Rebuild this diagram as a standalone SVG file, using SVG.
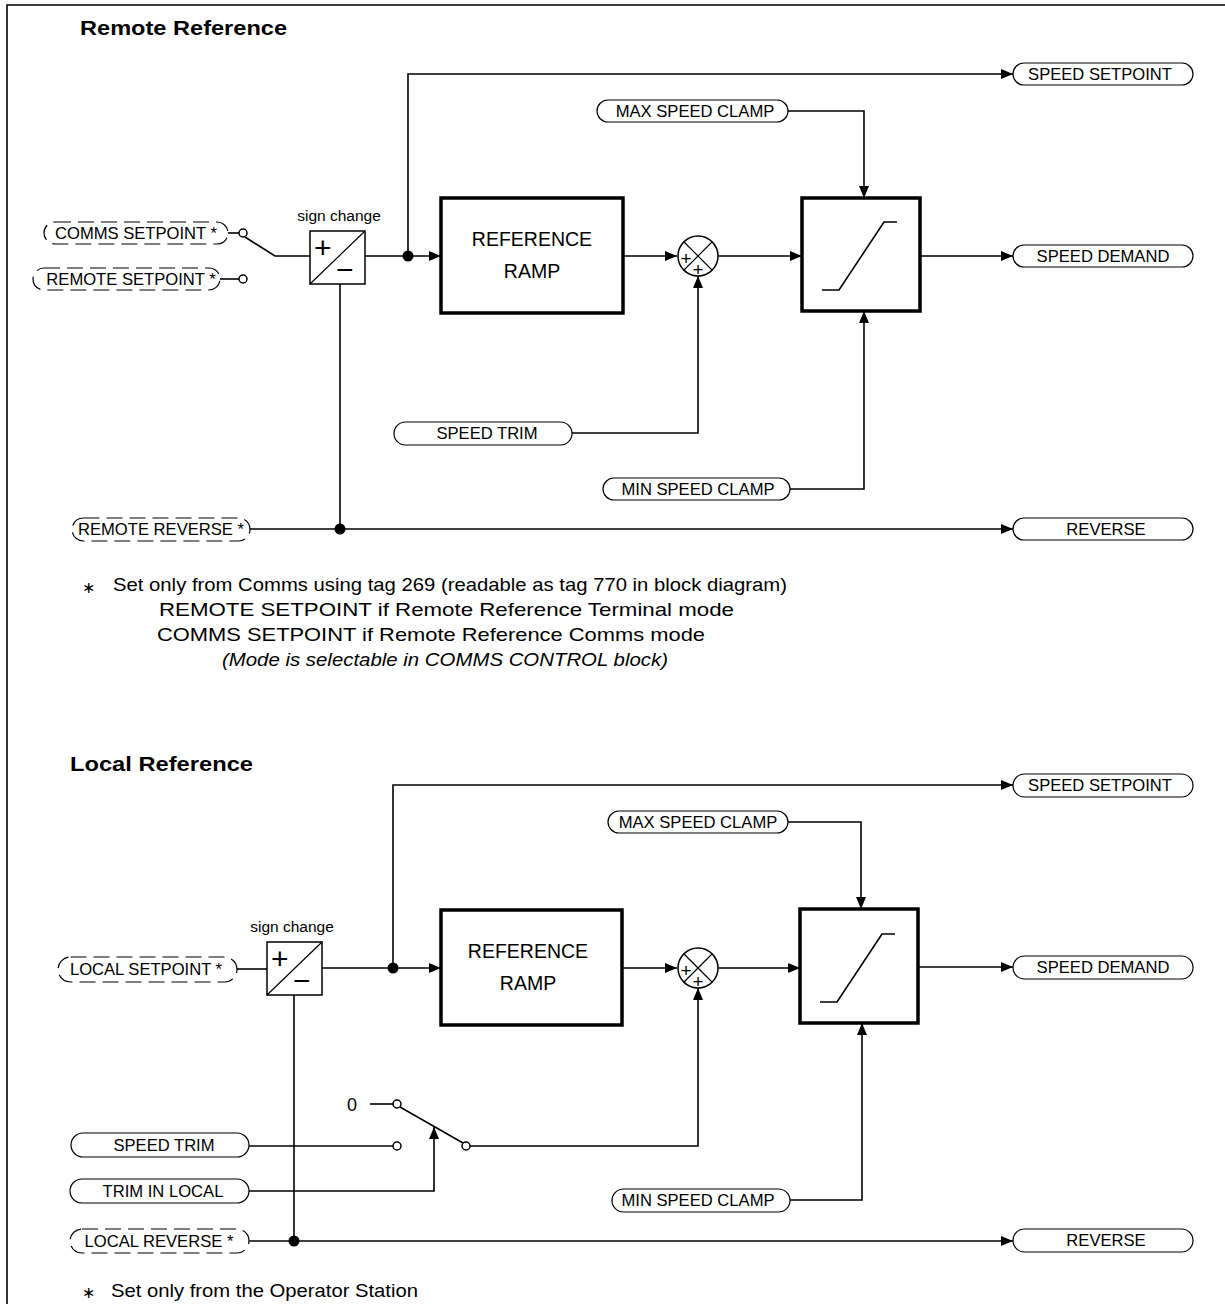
<svg xmlns="http://www.w3.org/2000/svg" width="1225" height="1304" viewBox="0 0 1225 1304">
<style>
text{font-family:"Liberation Sans",Arial,sans-serif;fill:#000}
.pl{font-size:16.6px;text-anchor:middle}
.pill{fill:#fff;stroke:#000;stroke-width:1.2}
.dpill{fill:#fff;stroke:#000;stroke-width:1.2;stroke-dasharray:16 7}
.ln{fill:none;stroke:#000;stroke-width:1.6}
.blk{fill:#fff;stroke:#000;stroke-width:3.5}
.sbox{fill:#fff;stroke:#000;stroke-width:1.5}
.thin{fill:none;stroke:#000;stroke-width:1.2}
.oc{fill:#fff;stroke:#000;stroke-width:1.5}
.dot{fill:#000}
.ttl{font-size:21px;font-weight:bold}
.fn{font-size:18.5px}
.ast{font-size:16px}
.sym{font-size:30px;font-weight:300}
.bt{font-size:19.5px;text-anchor:middle}
.sc{font-size:15.5px;text-anchor:middle}
.ps{font-size:19px;text-anchor:middle}
</style>
<defs>
<marker id="arr" viewBox="0 0 12 10" refX="12" refY="5" markerWidth="12" markerHeight="10" markerUnits="userSpaceOnUse" orient="auto"><path d="M0,0 L12,5 L0,10 z" fill="#000"/></marker>
</defs>

<g id="frame"><path class="ln" d="M7,1304 V5 H1225" stroke-width="2"/></g>

<!-- ============ REMOTE ============ -->
<text class="ttl" x="80" y="35" textLength="207" lengthAdjust="spacingAndGlyphs">Remote Reference</text>

<g id="connectors">
 <!-- remote -->
 <path class="ln" d="M228,233 H239"/>
 <path class="ln" d="M220,279 H239"/>
 <path class="ln" d="M245,237 L275,256 H310"/>
 <path class="ln" d="M365,256 H408"/>
 <path class="ln" d="M408,256 H441" marker-end="url(#arr)"/>
 <path class="ln" d="M408,256 V74 H1013" marker-end="url(#arr)"/>
 <path class="ln" d="M623,256 H677" marker-end="url(#arr)"/>
 <path class="ln" d="M718,256 H802" marker-end="url(#arr)"/>
 <path class="ln" d="M920,256 H1013" marker-end="url(#arr)"/>
 <path class="ln" d="M788,111 H864 V198" marker-end="url(#arr)"/>
 <path class="ln" d="M572,433 H698 V276" marker-end="url(#arr)"/>
 <path class="ln" d="M790,489 H864 V311" marker-end="url(#arr)"/>
 <path class="ln" d="M340,284 V529"/>
 <path class="ln" d="M250,529 H1013" marker-end="url(#arr)"/>
 <!-- local -->
 <path class="ln" d="M237,969 H267"/>
 <path class="ln" d="M322,968 H393"/>
 <path class="ln" d="M393,968 H441" marker-end="url(#arr)"/>
 <path class="ln" d="M393,968 V785 H1013" marker-end="url(#arr)"/>
 <path class="ln" d="M622,968 H677" marker-end="url(#arr)"/>
 <path class="ln" d="M718,968 H800" marker-end="url(#arr)"/>
 <path class="ln" d="M918,967 H1013" marker-end="url(#arr)"/>
 <path class="ln" d="M788,822 H861 V909" marker-end="url(#arr)"/>
 <path class="ln" d="M790,1200 H862 V1023" marker-end="url(#arr)"/>
 <path class="ln" d="M294,995 V1241"/>
 <path class="ln" d="M249,1241 H1013" marker-end="url(#arr)"/>
 <path class="ln" d="M370,1104 H393"/>
 <path class="ln" d="M249,1146 H393"/>
 <path class="ln" d="M400,1107 L463,1143"/>
 <path class="ln" d="M470,1146 H698 V988" marker-end="url(#arr)"/>
 <path class="ln" d="M249,1191 H434 V1127" marker-end="url(#arr)"/>
 <!-- dots and contacts -->
 <circle class="dot" cx="408" cy="256" r="5.5"/>
 <circle class="dot" cx="340" cy="529" r="5.5"/>
 <circle class="dot" cx="393" cy="968" r="5.5"/>
 <circle class="dot" cx="294" cy="1241" r="5.5"/>
 <circle class="oc" cx="243" cy="233" r="4"/>
 <circle class="oc" cx="243" cy="279" r="4"/>
 <circle class="oc" cx="397" cy="1104" r="4"/>
 <circle class="oc" cx="397" cy="1146" r="4"/>
 <circle class="oc" cx="466" cy="1146" r="4"/>
</g>

<g id="speed_setpoint_r"><rect class="pill" x="1013" y="63" width="180" height="22" rx="11"/><text class="pl" x="1100" y="80">SPEED SETPOINT</text></g>
<g id="max_clamp_r"><rect class="pill" x="597" y="100" width="191" height="22" rx="11"/><text class="pl" x="695" y="117">MAX SPEED CLAMP</text></g>
<g id="comms_setpoint"><rect class="dpill" x="44" y="222" width="184" height="22" rx="11"/><text class="pl" x="136" y="239">COMMS SETPOINT *</text></g>
<g id="remote_setpoint"><rect class="dpill" x="33" y="268" width="187" height="22" rx="11"/><text class="pl" x="131" y="285">REMOTE SETPOINT *</text></g>
<g id="sign_r">
 <text class="sc" x="339" y="221">sign change</text>
 <rect class="sbox" x="310" y="231" width="55" height="53"/>
 <path class="thin" d="M310,284 L365,231"/>
 <text class="sym" x="314" y="258">+</text>
 <text class="sym" x="336" y="280">−</text>
</g>
<g id="ramp_r"><rect class="blk" x="441" y="198" width="182" height="115"/><text class="bt" x="532" y="246">REFERENCE</text><text class="bt" x="532" y="278">RAMP</text></g>
<g id="sum_r">
 <circle class="sbox" cx="698" cy="256" r="20"/>
 <path class="thin" d="M684,242 L712,270 M712,242 L684,270"/>
 <text class="ps" x="686" y="265">+</text>
 <text class="ps" x="698" y="276">+</text>
</g>
<g id="clamp_r"><rect class="blk" x="802" y="198" width="118" height="113"/><path class="ln" d="M822,290 H839 L884,222 H897"/></g>
<g id="speed_demand_r"><rect class="pill" x="1013" y="245" width="180" height="22" rx="11"/><text class="pl" x="1103" y="262">SPEED DEMAND</text></g>
<g id="speed_trim_r"><rect class="pill" x="394" y="422" width="178" height="23" rx="11.5"/><text class="pl" x="487" y="439">SPEED TRIM</text></g>
<g id="min_clamp_r"><rect class="pill" x="603" y="478" width="187" height="22" rx="11"/><text class="pl" x="698" y="495">MIN SPEED CLAMP</text></g>
<g id="remote_reverse"><rect class="dpill" x="72" y="518" width="178" height="23" rx="11.5"/><text class="pl" x="161" y="535">REMOTE REVERSE *</text></g>
<g id="reverse_r"><rect class="pill" x="1013" y="518" width="180" height="22" rx="11"/><text class="pl" x="1106" y="535">REVERSE</text></g>

<g id="footnote_r">
 <text class="ast" x="82" y="593">∗</text>
 <text class="fn" x="113" y="591" textLength="674" lengthAdjust="spacingAndGlyphs">Set only from Comms using tag 269 (readable as tag 770 in block diagram)</text>
 <text class="fn" x="159" y="616" textLength="575" lengthAdjust="spacingAndGlyphs">REMOTE SETPOINT if Remote Reference Terminal mode</text>
 <text class="fn" x="157" y="641" textLength="548" lengthAdjust="spacingAndGlyphs">COMMS SETPOINT if Remote Reference Comms mode</text>
 <text class="fn" x="222" y="666" font-style="italic" textLength="446" lengthAdjust="spacingAndGlyphs">(Mode is selectable in COMMS CONTROL block)</text>
</g>

<!-- ============ LOCAL ============ -->
<text class="ttl" x="70" y="771" textLength="183" lengthAdjust="spacingAndGlyphs">Local Reference</text>

<g id="speed_setpoint_l"><rect class="pill" x="1013" y="774" width="180" height="23" rx="11.5"/><text class="pl" x="1100" y="791">SPEED SETPOINT</text></g>
<g id="max_clamp_l"><rect class="pill" x="608" y="811" width="180" height="22" rx="11"/><text class="pl" x="698" y="828">MAX SPEED CLAMP</text></g>
<g id="local_setpoint"><rect class="dpill" x="58" y="957" width="179" height="25" rx="12.5"/><text class="pl" x="146" y="975">LOCAL SETPOINT *</text></g>
<g id="sign_l">
 <text class="sc" x="292" y="932">sign change</text>
 <rect class="sbox" x="267" y="942" width="55" height="53"/>
 <path class="thin" d="M267,995 L322,942"/>
 <text class="sym" x="271" y="969">+</text>
 <text class="sym" x="293" y="991">−</text>
</g>
<g id="ramp_l"><rect class="blk" x="441" y="910" width="181" height="115"/><text class="bt" x="528" y="958">REFERENCE</text><text class="bt" x="528" y="990">RAMP</text></g>
<g id="sum_l">
 <circle class="sbox" cx="698" cy="968" r="20"/>
 <path class="thin" d="M684,954 L712,982 M712,954 L684,982"/>
 <text class="ps" x="686" y="977">+</text>
 <text class="ps" x="698" y="988">+</text>
</g>
<g id="clamp_l"><rect class="blk" x="800" y="909" width="118" height="114"/><path class="ln" d="M820,1002 H837 L882,934 H895"/></g>
<g id="speed_demand_l"><rect class="pill" x="1013" y="956" width="180" height="23" rx="11.5"/><text class="pl" x="1103" y="973">SPEED DEMAND</text></g>
<g id="zero"><text x="347" y="1111" font-size="18">0</text></g>
<g id="speed_trim_l"><rect class="pill" x="71" y="1133" width="178" height="24" rx="12"/><text class="pl" x="164" y="1151">SPEED TRIM</text></g>
<g id="trim_in_local"><rect class="pill" x="70" y="1179" width="179" height="24" rx="12"/><text class="pl" x="163" y="1197">TRIM IN LOCAL</text></g>
<g id="min_clamp_l"><rect class="pill" x="612" y="1189" width="178" height="23" rx="11.5"/><text class="pl" x="698" y="1206">MIN SPEED CLAMP</text></g>
<g id="local_reverse"><rect class="dpill" x="70" y="1229" width="179" height="24" rx="12"/><text class="pl" x="159" y="1247">LOCAL REVERSE *</text></g>
<g id="reverse_l"><rect class="pill" x="1013" y="1229" width="180" height="23" rx="11.5"/><text class="pl" x="1106" y="1246">REVERSE</text></g>

<g id="footnote_l">
 <text class="ast" x="82" y="1298">∗</text>
 <text class="fn" x="111" y="1297" textLength="307" lengthAdjust="spacingAndGlyphs">Set only from the Operator Station</text>
</g>
</svg>
